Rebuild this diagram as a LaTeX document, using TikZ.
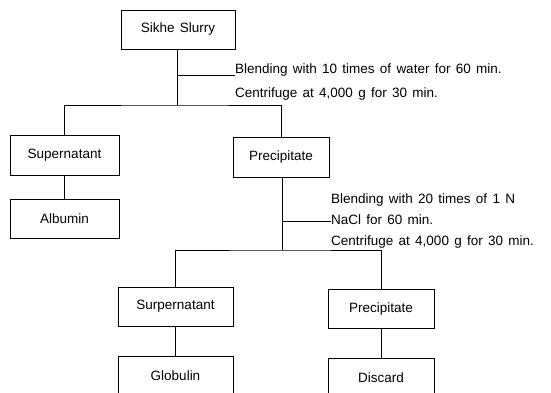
\documentclass[tikz,border=0pt]{standalone}
\usepackage{fontspec}
\setmainfont{Liberation Sans}[WordSpace=1.4]
\begin{document}
\begin{tikzpicture}[x=1pt,y=-1pt,
  box/.style={draw, line width=0.8pt, inner sep=0pt, font=\fontsize{13.5}{16}\selectfont},
  conn/.style={line width=0.8pt},
  note/.style={anchor=base west, inner sep=0pt, font=\fontsize{13.5}{16}\selectfont}]
\useasboundingbox (0,0) rectangle (551,392);
% boxes
\node[box, minimum width=114pt, minimum height=39pt] (slurry) at (178,29.5) {Sikhe\ Slurry};
\node[box, minimum width=109pt, minimum height=40pt] (sup1) at (64.5,155) {Supernatant};
\node[box, minimum width=109pt, minimum height=39pt] (alb) at (64.5,218.5) {Albumin};
\node[box, minimum width=96pt, minimum height=40pt] (prec1) at (281,157) {Precipitate};
\node[box, minimum width=115pt, minimum height=39pt] (sup2) at (175.5,306.5) {Surpernatant};
\node[box, minimum width=115pt, minimum height=40pt] (glob) at (175.5,376) {Globulin};
\node[box, minimum width=106pt, minimum height=39pt] (prec2) at (381,308.5) {Precipitate};
\node[box, minimum width=106pt, minimum height=40pt] (disc) at (381,378) {Discard};
% notes
\node[note] (n1a) at (235,73) {Blending with 10 times of water for 60 min.};
\node[note] (n1b) at (235,97) {Centrifuge at 4,000 g for 30 min.};
\node[note] (n2a) at (331,203) {Blending with 20 times of 1 N};
\node[note] (n2b) at (331,224) {NaCl for 60 min.};
\node[note] (n2c) at (331,245) {Centrifuge at 4,000 g for 30 min.};
% junctions
\coordinate (j1) at (177,105);
\coordinate (b1) at (177,75);
\coordinate (j2) at (282,250);
\coordinate (b2) at (282,221);
% connectors
\draw[conn] (slurry.south -| j1) -- (j1);
\draw[conn] (sup1.north) |- (j1) -| (prec1.north);
\draw[conn] (b1) -- (b1 -| n1a.west);
\draw[conn] (sup1) -- (alb);
\draw[conn] (prec1.south -| j2) -- (j2);
\draw[conn] (b2) -- (b2 -| n2b.west);
\draw[conn] (sup2.north) |- (j2) -| (prec2.north);
\draw[conn] (sup2) -- (glob);
\draw[conn] (prec2) -- (disc);
\end{tikzpicture}
\end{document}
